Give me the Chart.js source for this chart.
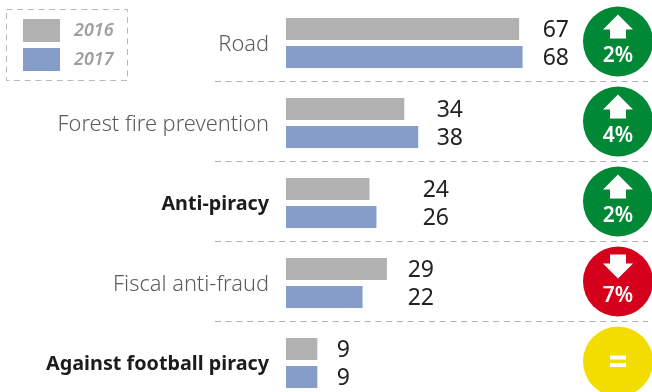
<!DOCTYPE html>
<html>
<head>
<meta charset="utf-8">
<style>
  html, body { margin: 0; padding: 0; background: #fff; overflow: hidden; }
  #wrap { width: 652px; height: 392px; overflow: hidden; }
</style>
<script src="https://cdn.jsdelivr.net/npm/chart.js@4"></script>
</head>
<body>
<div id="wrap"><canvas id="chart" width="652" height="410"></canvas></div>
<script>
const categories = ["Road", "Forest fire prevention", "Anti-piracy", "Fiscal anti-fraud", "Against football piracy"];
const values2016 = [67, 34, 24, 29, 9];
const values2017 = [68, 38, 26, 22, 9];
const changeLabels = ["2%", "4%", "2%", "7%", "="];
const changeDirections = ["up", "up", "up", "down", "same"];
const boldRows = [false, false, true, false, true];
const valueLabelRight = [569, 463, 449, 434, 350];

const FONT = '"Noto Sans", sans-serif';
const badgeColors = { up: "#008837", down: "#d5001c", same: "#f3dc00" };

const annotations = {
  id: "annotations",
  afterDatasetsDraw(chart) {
    const { ctx, scales: { y } } = chart;
    ctx.save();

    // dashed separators between rows
    ctx.strokeStyle = "#b0b0b0";
    ctx.lineWidth = 1;
    ctx.setLineDash([6, 4.7]);
    categories.slice(0, -1).forEach((_, i) => {
      const sep = Math.round((y.getPixelForValue(i) + y.getPixelForValue(i + 1)) / 2) - 1.5;
      ctx.beginPath();
      ctx.moveTo(215, sep);
      ctx.lineTo(648, sep);
      ctx.stroke();
    });

    // legend box
    ctx.strokeStyle = "#b8b8b8";
    ctx.strokeRect(6.5, 9.5, 121, 71);
    ctx.setLineDash([]);
    chart.data.datasets.forEach((ds, i) => {
      const top = 19 + i * 29;
      ctx.fillStyle = ds.backgroundColor;
      ctx.fillRect(23, top, 37, 23);
      ctx.fillStyle = "#9f9f9f";
      ctx.font = `italic 600 18px ${FONT}`;
      ctx.textAlign = "left";
      ctx.textBaseline = "middle";
      ctx.fillText(ds.label, 74, top + 12);
    });

    // value labels beside each bar
    ctx.fillStyle = "#222";
    ctx.font = `400 23px ${FONT}`;
    ctx.textAlign = "right";
    chart.data.datasets.forEach((ds, d) => {
      chart.getDatasetMeta(d).data.forEach((bar, i) => {
        ctx.fillText(String(ds.data[i]), valueLabelRight[i], bar.y + 1);
      });
    });

    // change badges
    categories.forEach((_, i) => {
      const cx = 618, cy = y.getPixelForValue(i) - 1.5, r = 35;
      const dir = changeDirections[i];
      ctx.fillStyle = badgeColors[dir];
      ctx.beginPath();
      ctx.arc(cx, cy, r, 0, Math.PI * 2);
      ctx.fill();
      ctx.fillStyle = "#fff";
      if (dir === "same") {
        ctx.fillRect(cx - 8, cy - 6, 16, 4);
        ctx.fillRect(cx - 8, cy + 1.5, 16, 4);
        return;
      }
      const t = dir === "up" ? -1 : 1;
      const tip = cy + (dir === "up" ? -27 : -3);
      ctx.beginPath();
      ctx.moveTo(cx, tip);
      ctx.lineTo(cx + 15, tip - t * 15);
      ctx.lineTo(cx + 8, tip - t * 15);
      ctx.lineTo(cx + 8, tip - t * 24);
      ctx.lineTo(cx - 8, tip - t * 24);
      ctx.lineTo(cx - 8, tip - t * 15);
      ctx.lineTo(cx - 15, tip - t * 15);
      ctx.closePath();
      ctx.fill();
      ctx.font = `600 21px ${FONT}`;
      ctx.textAlign = "center";
      ctx.fillText(changeLabels[i], cx, cy + 15);
    });
    ctx.restore();
  }
};

new Chart(document.getElementById("chart"), {
  type: "bar",
  data: {
    labels: categories,
    datasets: [
      { label: "2016", data: values2016, backgroundColor: "#b1b1b1", categoryPercentage: 0.7, barPercentage: 0.786 },
      { label: "2017", data: values2017, backgroundColor: "#869cc9", categoryPercentage: 0.7, barPercentage: 0.786 }
    ]
  },
  options: {
    indexAxis: "y",
    responsive: false,
    animation: false,
    layout: { padding: { top: 3, bottom: 7, left: 0, right: 0 } },
    plugins: { legend: { display: false }, tooltip: { enabled: false } },
    scales: {
      x: { display: false, min: 0, max: 105.2 },
      y: {
        // fixed gutter for the row names; no extra room above or below the rows
        afterFit(axis) {
          axis.width = 286;
          axis.paddingTop = 0;
          axis.paddingBottom = 0;
        },
        border: { display: false },
        grid: { display: false, drawTicks: false },
        ticks: {
          padding: 17,
          labelOffset: 1.5,
          color: ctx => boldRows[ctx.index] ? "#1c1c1c" : "#5c5c5c",
          font: ctx => boldRows[ctx.index]
            ? { family: FONT, size: 19.8, weight: "700" }
            : { family: FONT, size: 21.8, weight: "300" }
        }
      }
    }
  },
  plugins: [annotations]
});
</script>
</body>
</html>
